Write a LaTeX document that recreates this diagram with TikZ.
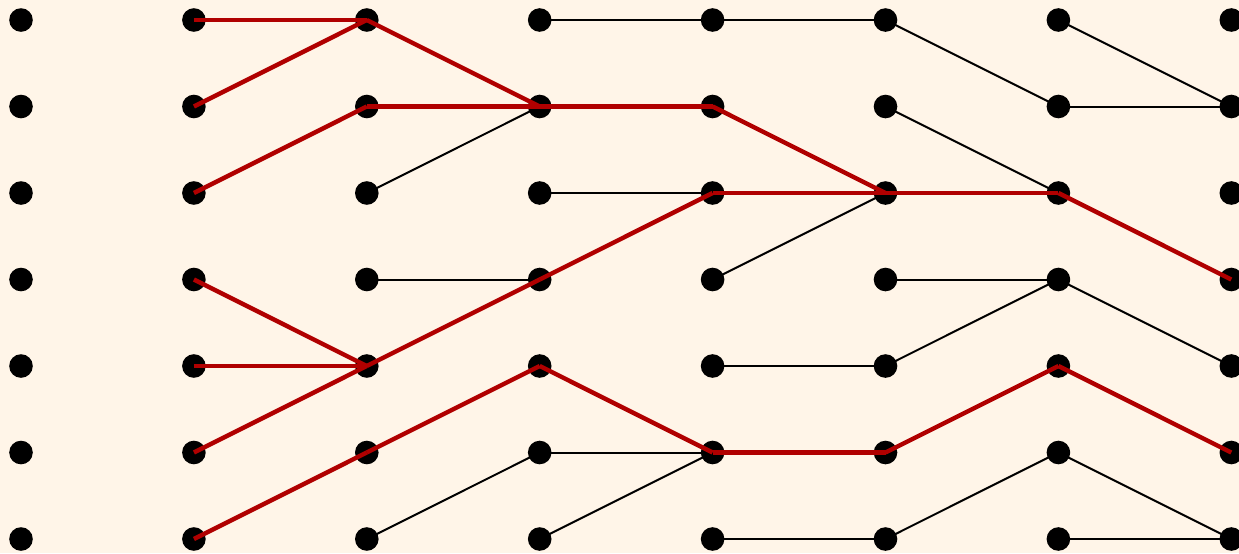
\documentclass[tikz,border=0pt]{standalone}
\definecolor{bgcol}{HTML}{FFF5E8}
\definecolor{pathred}{HTML}{B00000}
\begin{document}
\begin{tikzpicture}[x=0.5pt,y=-0.5pt,
  dot/.style={circle,fill=black,inner sep=0pt,minimum size=11.8pt},
  thinedge/.style={black,line width=1pt},
  rededge/.style={pathred,line width=2.2pt}]
\fill[bgcol] (0,0) rectangle (1239,553);
\useasboundingbox (0,0) rectangle (1239,553);
\foreach \i in {0,...,7}{
  \foreach \j in {0,...,6}{
    \node[dot] (n-\i-\j) at ({21+172.9*\i},{20+86.5*\j}) {};
  }
}
% thin black edges
\foreach \a/\b/\c/\d in {3/0/4/0, 4/0/5/0, 5/0/6/1, 6/0/7/1, 6/1/7/1, 2/2/3/1, 5/1/6/2,
  3/2/4/2, 4/3/5/2, 2/3/3/3, 5/3/6/3, 6/3/7/4, 5/4/6/3, 4/4/5/4, 3/5/4/5, 2/6/3/5,
  3/6/4/5, 6/5/7/6, 6/6/7/6, 4/6/5/6, 5/6/6/5}{
  \draw[thinedge] (n-\a-\b.center) -- (n-\c-\d.center);
}
% red edges
\foreach \a/\b/\c/\d in {1/0/2/0, 1/1/2/0, 2/0/3/1, 1/2/2/1, 2/1/3/1, 3/1/4/1, 4/1/5/2,
  4/2/5/2, 5/2/6/2, 3/3/4/2, 2/4/3/3, 1/3/2/4, 1/4/2/4, 1/5/2/4, 1/6/2/5, 2/5/3/4,
  3/4/4/5, 4/5/5/5, 5/5/6/4, 6/4/7/5, 6/2/7/3}{
  \draw[rededge] (n-\a-\b.center) -- (n-\c-\d.center);
}
\end{tikzpicture}
\end{document}
